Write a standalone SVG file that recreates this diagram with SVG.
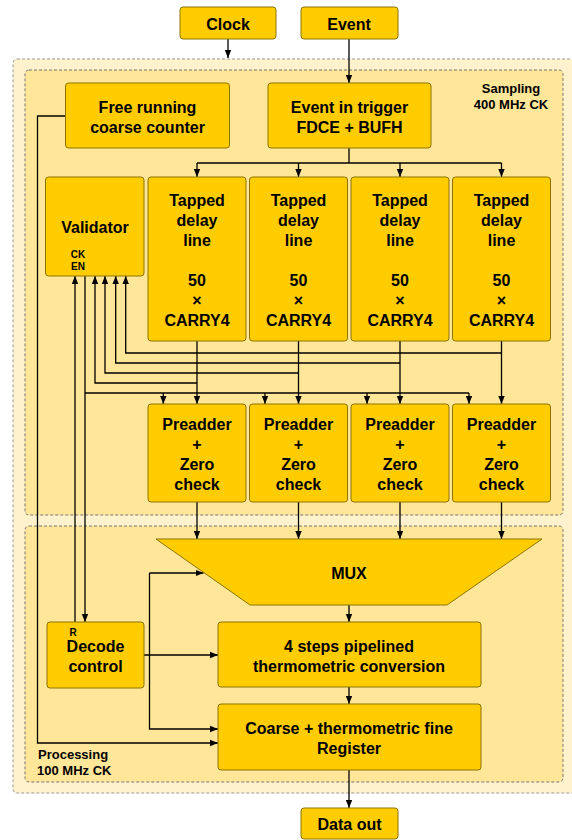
<svg xmlns="http://www.w3.org/2000/svg" width="572" height="840" viewBox="0 0 572 840">
<style>
text{font-family:"Liberation Sans",Arial,sans-serif;font-weight:bold;fill:#000;text-anchor:middle}
.t{font-size:16px}
.s{font-size:13px}
.xs{font-size:10px}
.box{fill:#FFCC00;stroke:#8a7400;stroke-width:1}
.outer{fill:#FFF2CC;stroke:#999;stroke-width:1;stroke-dasharray:3 2}
.inner{fill:#FFE699;stroke:#777;stroke-width:1;stroke-dasharray:3 2}
.c{fill:none;stroke:#000;stroke-width:1.3}
.a{marker-end:url(#arr)}
</style>
<defs>
<marker id="arr" markerUnits="userSpaceOnUse" markerWidth="8" markerHeight="8" viewBox="0 0 8 8" refX="8" refY="4" orient="auto">
<path d="M0,0.8 L8,4 L0,7.2 Z" fill="#000"/>
</marker>
</defs>
<rect fill="#fff" x="0" y="0" width="572" height="840"/>
<g id="containers">
<rect class="outer" x="13" y="59" width="580" height="734" rx="4"/>
<rect class="inner" x="25" y="70" width="538" height="445" rx="4"/>
<rect class="inner" x="25" y="526" width="538" height="256" rx="4"/>
<text class="s" x="511" y="93">Sampling</text>
<text class="s" x="511" y="109">400 MHz CK</text>
<text class="s" x="38" y="759" style="text-anchor:start">Processing</text>
<text class="s" x="37" y="775" style="text-anchor:start">100 MHz CK</text>
</g>
<g id="connectors">
<path class="c a" d="M228,39 V58"/>
<path class="c a" d="M349,39 V83"/>
<path class="c" d="M349,148 V163 M197,163 H501.5"/>
<path class="c a" d="M197,163 V177"/>
<path class="c a" d="M298.5,163 V177"/>
<path class="c a" d="M400,163 V177"/>
<path class="c a" d="M501.5,163 V177"/>
<path class="c a" d="M197,341 V404"/>
<path class="c a" d="M298.5,341 V404"/>
<path class="c a" d="M400,341 V404"/>
<path class="c a" d="M501.5,341 V404"/>
<path class="c a" d="M197,383 H95 V276"/>
<path class="c a" d="M298.5,373 H105 V276"/>
<path class="c a" d="M400,363 H115.7 V276"/>
<path class="c a" d="M501.5,353 H125.7 V276"/>
<path class="c a" d="M75,622 V276"/>
<path class="c a" d="M85,276 V622"/>
<path class="c" d="M85,393 H469"/>
<path class="c a" d="M163.3,393 V404"/>
<path class="c a" d="M265,393 V404"/>
<path class="c a" d="M367,393 V404"/>
<path class="c a" d="M469,393 V404"/>
<path class="c a" d="M197,502 V539"/>
<path class="c a" d="M298.5,502 V539"/>
<path class="c a" d="M400,502 V539"/>
<path class="c a" d="M501.5,502 V539"/>
<path class="c a" d="M65,116 H37.5 V743 H218"/>
<path class="c a" d="M144,655 H218"/>
<path class="c a" d="M149.5,573 H203.5"/>
<path class="c a" d="M149.5,573 V729 H218"/>
<path class="c a" d="M349,605 V622"/>
<path class="c a" d="M349,687 V704"/>
<path class="c a" d="M349,770 V808"/>
</g>
<g id="clock"><rect class="box" x="180" y="7" width="96" height="32" rx="3"/><text class="t" x="228" y="29.5">Clock</text></g>
<g id="event"><rect class="box" x="301" y="7" width="97" height="32" rx="3"/><text class="t" x="349" y="29.5">Event</text></g>
<g id="counter"><rect class="box" x="65.5" y="83" width="164" height="65" rx="3"/><text class="t" x="147.5" y="112.5">Free running</text><text class="t" x="147.5" y="132.5">coarse counter</text></g>
<g id="trigger"><rect class="box" x="268" y="83" width="163" height="65" rx="3"/><text class="t" x="349.5" y="112.5">Event in trigger</text><text class="t" x="349.5" y="132.5">FDCE + BUFH</text></g>
<g id="validator"><rect class="box" x="45.5" y="177" width="98.5" height="99" rx="3"/><text class="t" x="95" y="232.5">Validator</text><text class="xs" x="78" y="257.5">CK</text><text class="xs" x="78" y="269.5">EN</text></g>
<g id="tdl1"><rect class="box" x="148" y="177" width="98" height="164" rx="3"/><text class="t" x="197" y="205.5">Tapped</text><text class="t" x="197" y="225.5">delay</text><text class="t" x="197" y="245.5">line</text><text class="t" x="197" y="285.5">50</text><text class="t" x="197" y="305.5">×</text><text class="t" x="197" y="325.5">CARRY4</text></g>
<g id="tdl2"><rect class="box" x="249.5" y="177" width="98" height="164" rx="3"/><text class="t" x="298.5" y="205.5">Tapped</text><text class="t" x="298.5" y="225.5">delay</text><text class="t" x="298.5" y="245.5">line</text><text class="t" x="298.5" y="285.5">50</text><text class="t" x="298.5" y="305.5">×</text><text class="t" x="298.5" y="325.5">CARRY4</text></g>
<g id="tdl3"><rect class="box" x="351" y="177" width="98" height="164" rx="3"/><text class="t" x="400" y="205.5">Tapped</text><text class="t" x="400" y="225.5">delay</text><text class="t" x="400" y="245.5">line</text><text class="t" x="400" y="285.5">50</text><text class="t" x="400" y="305.5">×</text><text class="t" x="400" y="325.5">CARRY4</text></g>
<g id="tdl4"><rect class="box" x="452.5" y="177" width="98" height="164" rx="3"/><text class="t" x="501.5" y="205.5">Tapped</text><text class="t" x="501.5" y="225.5">delay</text><text class="t" x="501.5" y="245.5">line</text><text class="t" x="501.5" y="285.5">50</text><text class="t" x="501.5" y="305.5">×</text><text class="t" x="501.5" y="325.5">CARRY4</text></g>
<g id="pre1"><rect class="box" x="148" y="404" width="98" height="98" rx="3"/><text class="t" x="197" y="429.5">Preadder</text><text class="t" x="197" y="449.5">+</text><text class="t" x="197" y="470">Zero</text><text class="t" x="197" y="490">check</text></g>
<g id="pre2"><rect class="box" x="249.5" y="404" width="98" height="98" rx="3"/><text class="t" x="298.5" y="429.5">Preadder</text><text class="t" x="298.5" y="449.5">+</text><text class="t" x="298.5" y="470">Zero</text><text class="t" x="298.5" y="490">check</text></g>
<g id="pre3"><rect class="box" x="351" y="404" width="98" height="98" rx="3"/><text class="t" x="400" y="429.5">Preadder</text><text class="t" x="400" y="449.5">+</text><text class="t" x="400" y="470">Zero</text><text class="t" x="400" y="490">check</text></g>
<g id="pre4"><rect class="box" x="452.5" y="404" width="98" height="98" rx="3"/><text class="t" x="501.5" y="429.5">Preadder</text><text class="t" x="501.5" y="449.5">+</text><text class="t" x="501.5" y="470">Zero</text><text class="t" x="501.5" y="490">check</text></g>
<g id="mux"><polygon class="box" points="156,539 542,539 447,605 250,605"/><text class="t" x="349" y="578.5">MUX</text></g>
<g id="decode"><rect class="box" x="47" y="622" width="97" height="66" rx="3"/><text class="xs" x="73" y="635.5">R</text><text class="t" x="95.5" y="651.5">Decode</text><text class="t" x="95.5" y="672">control</text></g>
<g id="thermo"><rect class="box" x="218" y="622" width="263" height="65" rx="3"/><text class="t" x="349" y="651.5">4 steps pipelined</text><text class="t" x="349" y="671.5">thermometric conversion</text></g>
<g id="register"><rect class="box" x="218" y="704" width="263" height="66" rx="3"/><text class="t" x="349" y="733.5">Coarse + thermometric fine</text><text class="t" x="349" y="753.5">Register</text></g>
<g id="dataout"><rect class="box" x="301" y="808" width="97" height="31" rx="3"/><text class="t" x="349.5" y="829.5">Data out</text></g>
</svg>
